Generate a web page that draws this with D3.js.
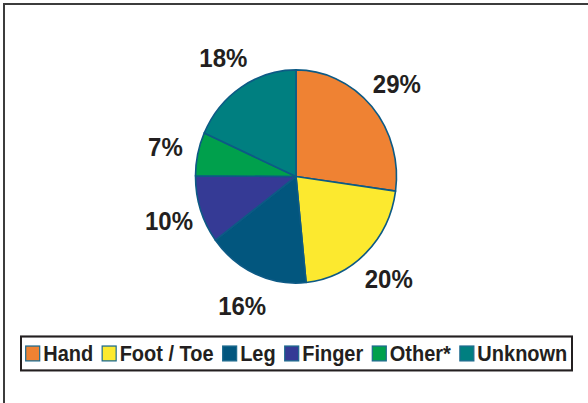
<!DOCTYPE html>
<html>
<head>
<meta charset="utf-8">
<script src="https://cdn.jsdelivr.net/npm/d3@7"></script>
<style>
  html, body { margin: 0; padding: 0; background: #fff; }
  svg { display: block; }
  text { font-family: "Liberation Sans", Arial, Helvetica, sans-serif; font-weight: bold; fill: #231f20; }
</style>
</head>
<body>
<div id="chart"></div>
<script>
const categories = ["Hand", "Foot / Toe", "Leg", "Finger", "Other*", "Unknown"];
const shares = [27.2, 21.2, 16.4, 10.3, 6.6, 18.3];
const pctLabels = ["29%", "20%", "16%", "10%", "7%", "18%"];
const colors = ["#ef8233", "#fce92f", "#02567e", "#353a95", "#00a04c", "#007f80"];

const width = 588;
const height = 403;
const stretch = 1.06;   // l'image d'origine est un peu étirée verticalement
const radius = 100.5;

const color = d3.scaleOrdinal().domain(categories).range(colors);

const svg = d3.select("#chart")
    .append("svg")
    .attr("width", width)
    .attr("height", height);

// cadre extérieur (coupé à droite et en bas)
svg.append("rect")
    .attr("x", 4).attr("y", 4)
    .attr("width", 640).attr("height", 460)
    .attr("fill", "none")
    .attr("stroke", "#3c3c3c")
    .attr("stroke-width", 2);

const data = categories.map((c, i) => ({cat: c, value: shares[i], label: pctLabels[i]}));

const pie = d3.pie().sort(null).value(d => d.value);
const arc = d3.arc().innerRadius(0).outerRadius(radius);
const labelArc = d3.arc().innerRadius(radius * 1.33).outerRadius(radius * 1.33);

const g = svg.append("g")
    .attr("transform", `translate(296,176.5) scale(1,${stretch})`);

g.selectAll("path")
    .data(pie(data))
    .join("path")
    .attr("d", arc)
    .attr("fill", d => color(d.data.cat))
    .attr("stroke", "#0d5a85")
    .attr("stroke-width", 1.6)
    .attr("stroke-linejoin", "round");

g.selectAll("text.pct")
    .data(pie(data))
    .join("text")
    .attr("class", "pct")
    .attr("transform", d => `translate(${labelArc.centroid(d)})`)
    .attr("text-anchor", "middle")
    .attr("dy", "0.36em")
    .style("font-size", "24px")
    .text(d => d.data.label);

// légende
const legend = svg.append("g")
    .attr("transform", `translate(0,336.5) scale(1,${stretch})`);

const box = legend.append("rect")
    .attr("y", 0)
    .attr("height", 32)
    .attr("fill", "#fff")
    .attr("stroke", "#231f20")
    .attr("stroke-width", 2);

const items = legend.selectAll("g.item")
    .data(categories)
    .join("g")
    .attr("class", "item");

items.append("rect")
    .attr("y", 9)
    .attr("width", 14)
    .attr("height", 14)
    .attr("fill", d => color(d))
    .attr("stroke", "#1d6a8e")
    .attr("stroke-width", 1.2);

items.append("text")
    .attr("x", 17.5)
    .attr("y", 16)
    .attr("dy", "0.36em")
    .style("font-size", "20px")
    .text(d => d);

// placer les éléments les uns après les autres
let x = 0;
const offsets = [];
items.each(function() {
    offsets.push(x);
    x += 17.5 + d3.select(this).select("text").node().getComputedTextLength() + 9;
});
const total = x - 9;
const startX = 296.5 - total / 2;
items.attr("transform", (d, i) => `translate(${startX + offsets[i]},0)`);
box.attr("x", 21).attr("width", 551);
</script>
</body>
</html>
